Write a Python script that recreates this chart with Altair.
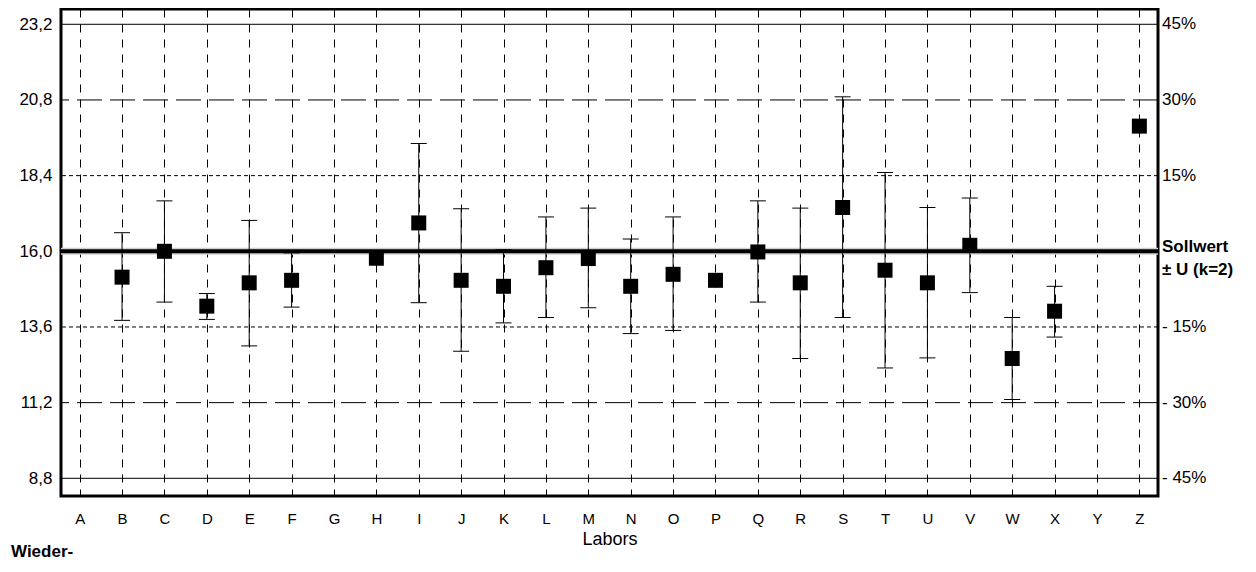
import altair as alt
import pandas as pd

labs = list("ABCDEFGHIJKLMNOPQRSTUVWXYZ")
means = [None, 15.18, 16.0, 14.26, 15.0, 15.08, None, 15.78, 16.9, 15.08, 14.89, 15.48, 15.77,
         14.89, 15.27, 15.08, 15.98, 15.0, 17.39, 15.4, 15.0, 16.19, 12.6, 14.1, None, 19.97]
upper = [None, 16.59, 17.6, 14.66, 16.98, 15.95, None, None, 19.42, 17.35, 16.05, 17.09, 17.37,
         16.39, 17.09, None, 17.6, 17.37, 20.9, 18.5, 17.39, 17.69, 13.9, 14.89, None, None]
lower = [None, 13.81, 14.39, 13.84, 13.0, 14.23, None, None, 14.37, 12.83, 13.73, 13.9, 14.21,
         13.39, 13.49, None, 14.39, 12.6, 13.9, 12.3, 12.62, 14.69, 11.3, 13.28, None, None]

solid_lines = [23.2, 8.8]
long_dash_lines = [20.8, 11.2]
short_dash_lines = [18.4, 13.6]
target = [16.0]
left_ticks = [8.8, 11.2, 13.6, 16.0, 18.4, 20.8, 23.2]
right_vals = [23.2, 20.8, 18.4, 13.6, 11.2, 8.8]
right_labels = ["45%", "30%", "15%", "- 15%", "- 30%", "- 45%"]
target_label = ["Sollwert\n± U (k=2)"]
footnote = ["Wieder-"]

W, H = 1097, 487
FONT = "Liberation Sans"

df = pd.DataFrame({"lab": labs, "mean": means, "lo": lower, "hi": upper})

xaxis = alt.Axis(title="Labors", grid=True, gridDash=[8, 7], gridColor="black", gridWidth=1,
                 gridOpacity=1, ticks=False, domain=False, labelFontSize=15, labelPadding=15,
                 labelAngle=0, titleFontSize=18, titleFontWeight="normal", titlePadding=4,
                 labelFont=FONT, titleFont=FONT, labelColor="black", titleColor="black")
xscale = alt.Scale(type="point", domain=labs, padding=0.44)
yscale = alt.Scale(domain=[8.239, 23.685], nice=False, zero=False)
yaxis = alt.Axis(values=left_ticks, labelExpr="replace(format(datum.value, '.1f'), '.', ',')",
                 grid=False, ticks=False, domain=False, labelFontSize=17, labelPadding=9,
                 title=None, labelFont=FONT, labelColor="black")


def X(f):
    return alt.X(f, scale=xscale, axis=xaxis)


def Y(f):
    return alt.Y(f, scale=yscale, axis=yaxis)


solid = alt.Chart(pd.DataFrame({"v": solid_lines})).mark_rule(color="black", strokeWidth=1).encode(y=Y("v:Q"))
longd = alt.Chart(pd.DataFrame({"v": long_dash_lines})).mark_rule(color="black", strokeWidth=1, strokeDash=[25, 8]).encode(y=Y("v:Q"))
shortd = alt.Chart(pd.DataFrame({"v": short_dash_lines})).mark_rule(color="black", strokeWidth=1, strokeDash=[4, 3]).encode(y=Y("v:Q"))
halo = alt.Chart(pd.DataFrame({"v": target})).mark_rule(color="#d0d0d0", strokeWidth=7).encode(y=Y("v:Q"))
tline = alt.Chart(pd.DataFrame({"v": target})).mark_rule(color="black", strokeWidth=4).encode(y=Y("v:Q"))

base = alt.Chart(df)
err = base.mark_rule(color="black", strokeWidth=1).encode(x=X("lab:N"), y=Y("lo:Q"), y2="hi:Q")
cap_lo = base.mark_tick(color="black", size=16, thickness=1, opacity=1).encode(x=X("lab:N"), y=Y("lo:Q"))
cap_hi = base.mark_tick(color="black", size=16, thickness=1, opacity=1).encode(x=X("lab:N"), y=Y("hi:Q"))
pts = base.mark_square(color="black", size=225, opacity=1).encode(x=X("lab:N"), y=Y("mean:Q"))

rtext = alt.Chart(pd.DataFrame({"v": right_vals, "t": right_labels})).mark_text(
    align="left", baseline="middle", fontSize=17, font=FONT, color="black"
).encode(x=alt.value(W + 4), y=Y("v:Q"), text="t:N")
ttext = alt.Chart(pd.DataFrame({"v": target, "t": target_label})).mark_text(
    align="left", baseline="middle", fontSize=17, font=FONT, fontWeight="bold", color="black",
    lineBreak="\n", lineHeight=23, dy=-4
).encode(x=alt.value(W + 4), y=Y("v:Q"), text="t:N")
ftext = alt.Chart(pd.DataFrame({"t": footnote})).mark_text(
    align="left", baseline="alphabetic", fontSize=17, font=FONT, fontWeight="bold", color="black"
).encode(x=alt.value(-50), y=alt.value(548), text="t:N")

chart = alt.layer(solid, longd, shortd, halo, tline, err, cap_lo, cap_hi, pts, rtext, ttext, ftext).properties(
    width=W, height=H,
    autosize=alt.AutoSizeParams(type="none"),
    padding={"left": 53, "top": 1, "right": 90, "bottom": 68},
    background="white",
).configure_view(stroke="black", strokeWidth=3)

chart.save("out.html", embed_options={"renderer": "svg", "actions": False})
